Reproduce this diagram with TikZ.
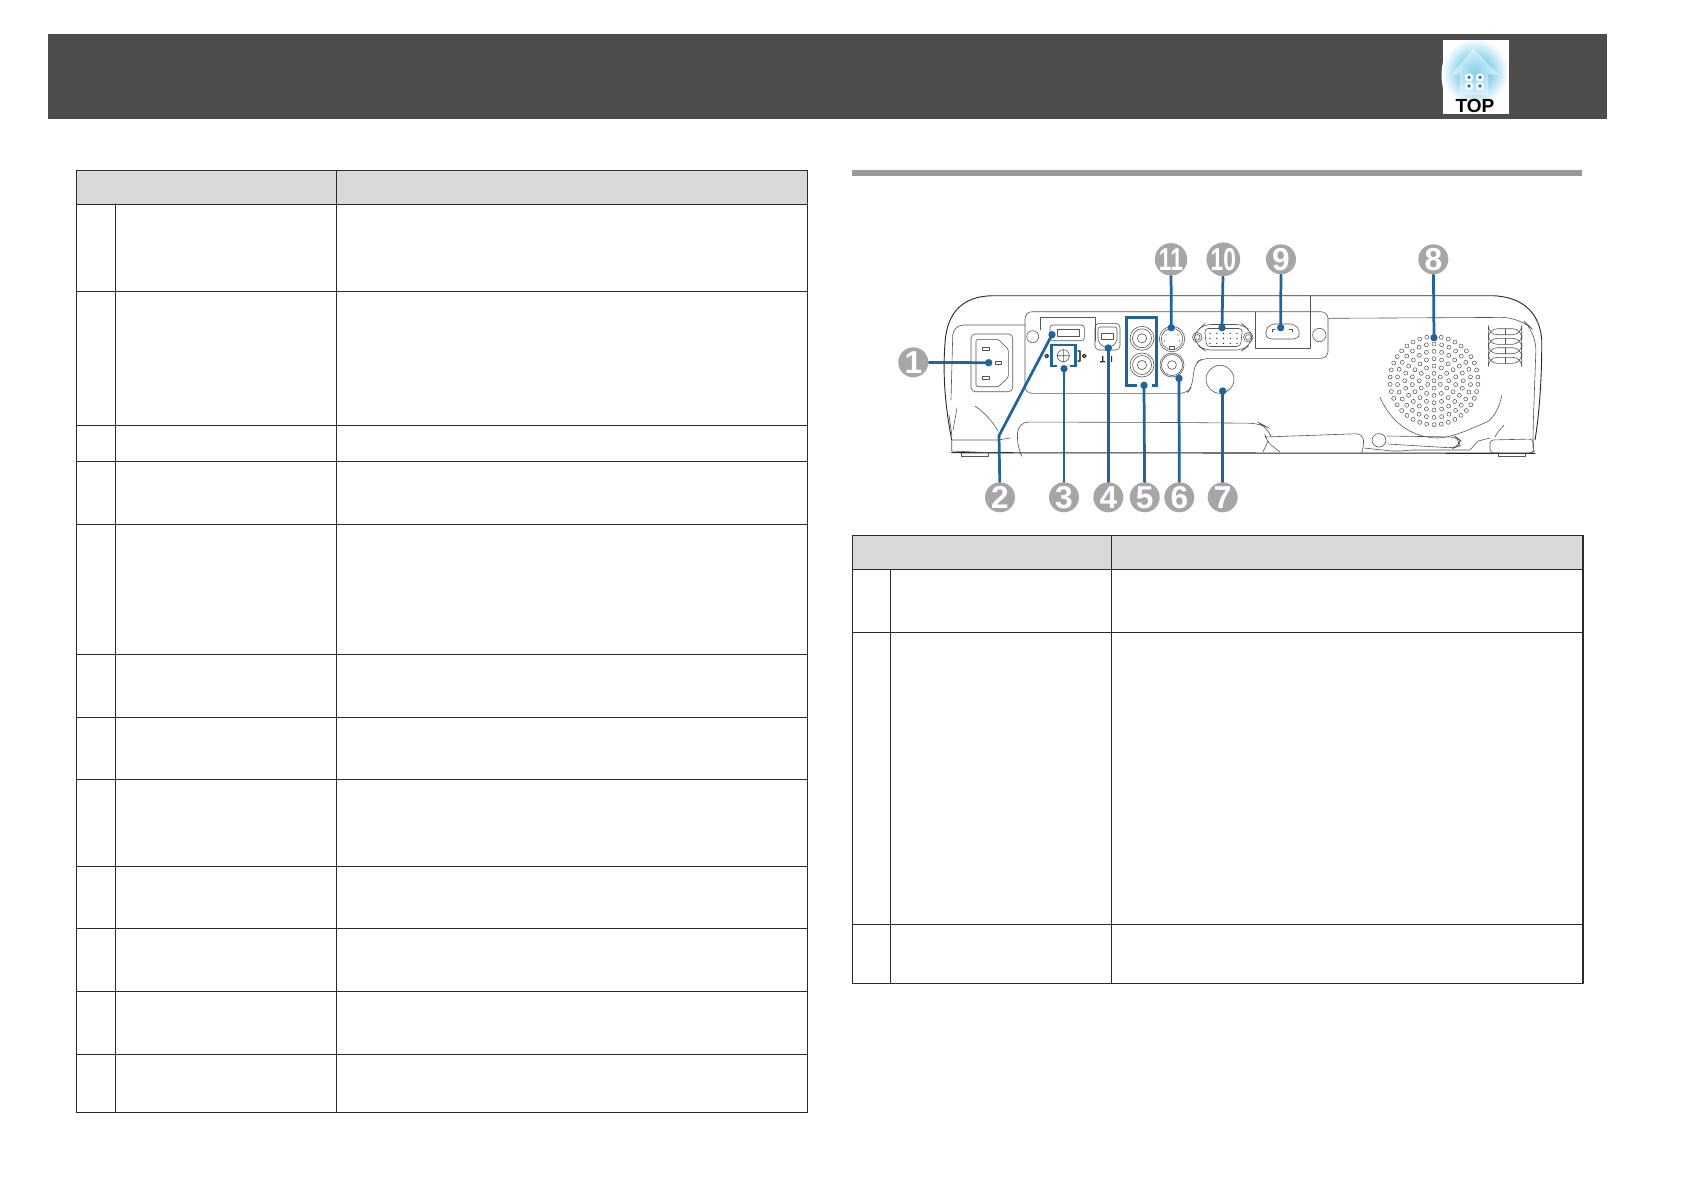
\documentclass[tikz,border=0pt]{standalone}
\usepackage{fontspec}
\setmainfont{Liberation Sans}
\definecolor{bandgray}{HTML}{4D4D4D}
\definecolor{headgray}{HTML}{D9D9D9}
\definecolor{rulegray}{HTML}{999999}
\definecolor{callgray}{HTML}{A6A6A6}
\definecolor{leadblue}{HTML}{22649A}
\definecolor{artblack}{HTML}{2A2A2A}
\definecolor{artgray}{HTML}{555555}
\definecolor{glowcyan}{HTML}{25ABD8}
\tikzset{
	tabline/.style={draw=artblack, line width=.32pt},
	art/.style={draw=artgray, line width=.17pt},
	leader/.style={draw=leadblue, line width=.78pt},
	callout/.style={circle, fill=callgray, minimum size=30*.2845pt, inner sep=0pt, text=white, font=\bfseries\fontsize{9}{9}\selectfont},
}
\begin{document}
\begin{tikzpicture}[x=.01cm, y=-.01cm, line join=round, line cap=round]
	\useasboundingbox (0,0) rectangle (1684,1190);
	\fill[bandgray] (48,34) rectangle (1607,119);
	% top icon
	\fill[white] (1443,62) .. controls (1441,70) and (1441,80) .. (1443,88) -- cycle;
	\fill[white] (1443,40) rectangle (1509,114);
	\begin{scope}
		\clip (1443,40) rectangle (1509,114);
		\shade[inner color=glowcyan, outer color=white] (1475,72) circle (33);
	\end{scope}
	\fill[white, opacity=.45] (1473.3,48.3)--(1498.3,74.3)--(1488.3,74.3)--(1488.3,95)--(1460,95)--(1460,74.3)--(1451.7,74.3)--cycle;
	\foreach \x/\y in {1469/77.3,1480/77.3,1469/86,1480/86} {
		\fill[white, rounded corners=.4pt] (\x-3.6,\y-3.6) rectangle (\x+3.6,\y+3.6);
		\fill[glowcyan!70!black] (\x,\y) circle (1.8);
	}
	\node[inner sep=0pt, font=\bfseries\fontsize{5.4}{5.4}\selectfont] (top) at (1475,106) {TOP};
	% tables
	\fill[headgray] (76.5,170.3) rectangle (807.3,204);
	\foreach \y in {170.3,204.3,291.3,425.3,461.3,524.3,654.3,717.3,779.3,866.3,928.3,991.3,1054.3,1112.3}
		\draw[tabline] (76.5,\y)--(807.3,\y);
	\foreach \x in {76.5,336.5,807.3} \draw[tabline] (\x,170.3)--(\x,1112.3);
	\draw[tabline] (115.5,204)--(115.5,1112.3);
	\fill[rulegray] (852,170) rectangle (1582,176);
	\fill[headgray] (852.7,535.3) rectangle (1583,569.3);
	\foreach \y in {535.3,569.3,632.3,924.3,983.3} \draw[tabline] (852.7,\y)--(1583,\y);
	\foreach \x in {852.7,1111.7,1583} \draw[tabline] (\x,535.3)--(\x,983.3);
	\draw[tabline] (890.3,569.3)--(890.3,983.3);
	% projector body
	\draw[artblack, line width=.26pt] (951.7,440) .. controls (944,400) and (943,370) .. (945,343) .. controls (947,310) and (965,296) .. (993,295.7) -- (1493,295.7) .. controls (1525,297) and (1540,315) .. (1541.7,340) .. controls (1542,370) and (1540,410) .. (1535,440);
	\draw[artblack, line width=.3pt] (951.7,452.7) -- (1535,453.3);
	\draw[art] (951.7,440)--(951.7,451)--(998,453) (951.7,440)--(998,440)--(1010,438);
	\draw[art] (961.7,453)--(961.7,456.7)--(988.3,456.7)--(988.3,453);
	\draw[art, rounded corners=1pt] (1490,440)--(1533,439)--(1534,451)--(1532,453)--(1490,453)--cycle;
	\draw[art] (1498.3,453)--(1498.3,456.7)--(1525,456.7)--(1525,453);
	\draw[art] (1495,437) .. controls (1497,432) and (1501,429) .. (1504,425);
	\draw[art] (975,406) .. controls (985,413) and (993,422) .. (998,431);
	\draw[art] (957,408)--(953,430) (949,415)--(952,436);
	% left recess and inlet
	\draw[art, rounded corners=3pt] (1025,325)--(953,325)--(951,400);
	\draw[art, rounded corners=1.2pt] (971,334) rectangle (1012.7,391.7);
	\draw[art, rounded corners=.4pt] (976,339.3)--(998.3,339.3)--(1008.3,349.3)--(1008.3,377.3)--(998.3,386.7)--(976,386.7)--cycle;
	\foreach \x/\y/\w in {982.7/347.3/6.6,982.7/376/6.6,995.7/361/6}
		\draw[art] (\x,\y) rectangle (\x+\w,\y+3);
	% connector panel
	\draw[art, rounded corners=2pt] (1187,393.3)--(1025,393.3)--(1025,311.7)--(1328,311.7)--(1328,358.3)--(1203,358.3)--(1195,363)--(1191.7,387)--cycle;
	\draw[art] (1310,295.7)--(1310,348.3)--(1255,348.3)--(1255,311.7);
	% usb and service ports
	\draw[art] (1032.7,336.7) circle (6);
	\draw[art] (1040,317.7)--(1095,317.7)--(1095,341) (1040,317.7)--(1040,330);
	\draw[art, rounded corners=.8pt] (1050,325) rectangle (1084.3,340.7);
	\draw[art] (1057.3,329) rectangle (1079.3,336);
	\draw[art] (1063.3,355.7) circle (6) (1057,355.7)--(1069.6,355.7) (1063.3,349.4)--(1063.3,362);
	\draw[artblack, line width=.35pt] (1046.7,356) circle (1.8) (1084.3,356) circle (1.8);
	\draw[art, line width=.3pt] (1078,351)--(1080,351)--(1080,361)--(1078,361);
	\draw[art, rounded corners=1.2pt] (1095,323.3) rectangle (1120,350);
	\draw[art, rounded corners=.6pt] (1098,327)--(1117,327)--(1117,341)--(1112,347)--(1103,347)--(1098,341)--cycle;
	\draw[art] (1101.7,333.3) rectangle (1113.3,339.3);
	\fill[artblack] (1102,356) rectangle (1103.3,362) (1099.8,361) rectangle (1105,362.4) (1111,356) rectangle (1112,362);
	% rca, svideo, audio
	\foreach \y in {338.3,365} {
		\draw[art] (1142,\y) circle (12);
		\draw[art] (1142,\y) circle (9.5) (1142,\y) circle (4.6);
	}
	\draw[art] (1172,339) circle (12.7);
	\draw[art] (1172,339) circle (10.7);
	\fill[artblack] (1166,335) circle (.7) (1178,335) circle (.7) (1164.5,341) circle (.7) (1179.5,341) circle (.7);
	\fill[white, draw=artgray, line width=.17pt] (1169.5,346.5) rectangle (1174.5,349.5);
	\draw[art] (1172,365) circle (12) (1172,365) circle (10.5);
	\draw[art] (1172,365) circle (4.4);
	% vga
	\draw[art, rounded corners=2pt] (1192,337.3)--(1200,328)--(1204,324.5)--(1243,324.5)--(1247,328)--(1254,337.3)--(1247,347)--(1243,350)--(1204,350)--(1200,347)--cycle;
	\foreach \x in {1197.3,1248.3} \draw[art] (\x,337.3) circle (4.8) (\x,337.3) circle (2.8);
	\draw[art, rounded corners=1pt] (1204.5,328.5)--(1242.5,328.5)--(1240.5,346.5)--(1206.5,346.5)--cycle;
	\foreach \x in {1210,1216.8,1223.5,1230.3,1237}
		\foreach \y in {333.3,338.3,343.3} \fill[artblack] (\x,\y) circle (.7);
	% hdmi
	\draw[art, rounded corners=.6pt] (1266,329)--(1271.7,324)--(1293.3,324)--(1299,329)--(1299,336.7)--(1295,339)--(1270,339)--(1266,336.7)--cycle;
	\draw[art] (1275,329)--(1272.5,329)--(1272.5,332) (1289,329)--(1292.5,329)--(1292.5,332);
	\draw[art] (1319.3,335) circle (6.7);
	% ir window, lower slot and handle
	\draw[art] (1220,379.3) circle (14);
	\draw[art, rounded corners=3pt] (1020,452.7)--(1017,447)--(1018,422)--(1180,422.5)--(1260,423.3)--(1267,427)--(1270,434);
	\draw[art, rounded corners=2pt] (1265,437)--(1363,433.5)--(1364,447)--(1362,452) (1265,435)--(1266,441)--(1280,452) (1263,452)--(1268,441);
	\draw[art, rounded corners=2pt] (1372,433.5) rectangle (1386,447);
	\draw[art, rounded corners=2pt] (1387,436)--(1456,437)--(1460,440)--(1459,446)--(1454,448)--(1388,444);
	\draw[art] (1364,448)--(1392,451)--(1400,451)--(1412,450)--(1470,450)--(1478,441)--(1490,438);
	% right recess, vents, speaker
	\draw[art, rounded corners=5pt] (1328,318.3)--(1520,317.3)--(1536.5,333)--(1533,430)--(1533,437);
	\foreach \y in {328.7,338.3,347.7,357.3} {
		\draw[art, rounded corners=2.6pt] (1488.3,\y) rectangle (1521.7,\y+6);
		\draw[art] (1505.7,\y)--(1505.7,\y+6);
	}
	\draw[art] (1380,397.3) .. controls (1392,425) and (1415,438) .. (1438,438) .. controls (1455,437) and (1472,428) .. (1487,422) .. controls (1495,417) and (1500,405) .. (1501.7,395.7);
	\foreach \r/\n in {7.3/6,14.7/12,22/18,29.3/24,36.7/30,44/38}
		\foreach \k in {1,...,\n}
			\draw[art, line width=.15pt] ({1434+\r*cos(90+360*\k/\n)},{380.7+\r*sin(90+360*\k/\n)}) circle (2);
	\draw[art, line width=.15pt] (1434,380.7) circle (2);
	% callouts
	\foreach \nm/\x/\y/\t in {1/913.3/362.3/1,2/1000/497.3/2,3/1064/497.3/3,4/1108.3/497.3/4,5/1144.7/497.3/5,6/1179.3/497.3/6,7/1222.7/497.3/7,8/1433.3/259.3/8,9/1281/259.3/9,10/1223.3/259.3/\scalebox{.72}[1]{10},11/1171/259.3/\scalebox{.72}[1]{11}}
		\node[callout] (c\nm) at (\x,\y) {\t};
	\foreach \nm/\x/\y in {1/988.7/362.7,2/1052/334.7,3/1064/368.7,4/1108.3/348,5/1144/385.3,6/1179/378.3,7/1222.7/391,8/1434/337.7,9/1280.7/327.7,10/1222/327.7,11/1171.3/327.7}
		\coordinate (p\nm) at (\x,\y);
	\coordinate (b2) at (999,435.7);
	\draw[leader] (c2)--(b2)--(p2);
	\foreach \nm in {1,3,4,5,6,7,8,9,10,11} \draw[leader] (c\nm)--(p\nm);
	\foreach \nm in {1,...,11} \fill[leadblue] (p\nm) circle (3.7);
	\draw[leader, line cap=butt, line join=miter] (1057.3,366)--(1051.7,366)--(1051.7,345)--(1075.7,345)--(1075.7,366)--(1070,366);
	\draw[leader, line cap=butt, line join=miter] (1136.7,385.7)--(1126.7,385.7)--(1126.7,317.7)--(1156.7,317.7)--(1156.7,385.7)--(1151.7,385.7);
\end{tikzpicture}
\end{document}
